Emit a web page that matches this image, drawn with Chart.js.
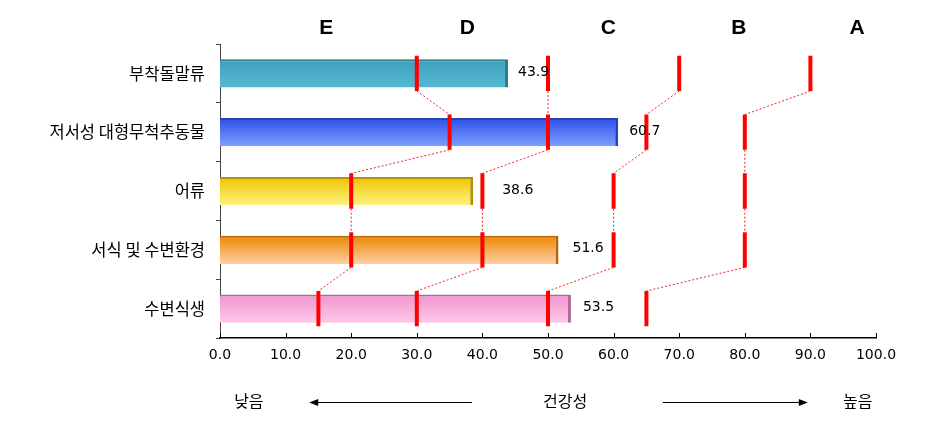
<!DOCTYPE html>
<html>
<head>
<meta charset="utf-8">
<script src="https://cdn.jsdelivr.net/npm/chart.js@4"></script>
<style>
html,body{margin:0;padding:0;background:#fff;}
#wrap{width:946px;height:443px;position:relative;}
</style>
</head>
<body>
<div id="wrap"><canvas id="c" width="946" height="443"></canvas></div>
<script>
// ---- data ----
const categories = ['부착돌말류', '저서성 대형무척추동물', '어류', '서식 및 수변환경', '수변식생'];
const values = [43.9, 60.7, 38.6, 51.6, 53.5];
// grade boundaries per category (E|D, D|C, C|B, B|A)
const boundaries = [
  [30, 50, 70, 90],
  [35, 50, 65, 80],
  [20, 40, 60, 80],
  [20, 40, 60, 80],
  [15, 30, 50, 65]
];
const grades = ['E', 'D', 'C', 'B', 'A'];
const gradeLabelPos = [16.2, 37.7, 59.2, 79.1, 97.1];
const xTickValues = [0, 10, 20, 30, 40, 50, 60, 70, 80, 90, 100];
const bottomLow = '낮음';
const bottomMid = '건강성';
const bottomHigh = '높음';

// ---- styles ----
const barColors = [
  {top: '#3f9fba', bottom: '#56b9d2', edge: '#2d7c90'},
  {top: '#2c50e6', bottom: '#7f9eff', edge: '#2a42b0'},
  {top: '#f0c400', bottom: '#fff37e', edge: '#b49208'},
  {top: '#ec8700', bottom: '#ffd0a2', edge: '#b06810'},
  {top: '#f095cf', bottom: '#ffc8e8', edge: '#b06a9a'}
];
const labelOffsets = [10, 11, 29, 14, 12];
const mTop = 0.30, mBot = 0.30;

// build overlay line data from boundaries
const markerData = [];
boundaries.forEach((row, i) => {
  row.forEach(t => {
    markerData.push({x: t, y: i - mTop}, {x: t, y: i + mBot}, {x: null, y: null});
  });
});
const connectorData = [];
for (let k = 0; k < 4; k++) {
  for (let i = 0; i < boundaries.length - 1; i++) {
    connectorData.push({x: boundaries[i][k], y: i + mBot}, {x: boundaries[i + 1][k], y: i + 1 - mTop}, {x: null, y: null});
  }
}

const overlayPlugin = {
  id: 'overlay',
  afterDraw(chart) {
    const ctx = chart.ctx;
    const xs = chart.scales.x, ys = chart.scales.y;
    const area = chart.chartArea;
    ctx.save();
    // inward x tick marks
    ctx.strokeStyle = '#000';
    ctx.lineWidth = 1;
    xTickValues.forEach(v => {
      const px = Math.round(xs.getPixelForValue(v)) + 0.5;
      ctx.beginPath();
      ctx.moveTo(px, area.bottom);
      ctx.lineTo(px, area.bottom - 5);
      ctx.stroke();
    });
    // value labels
    ctx.fillStyle = '#000';
    ctx.font = '14px "DejaVu Sans", sans-serif';
    ctx.textAlign = 'left';
    ctx.textBaseline = 'middle';
    values.forEach((v, i) => {
      const px = xs.getPixelForValue(v) + labelOffsets[i];
      const py = ys.getPixelForValue(i) - 1;
      ctx.fillText(v.toFixed(1), px, py);
    });
    // grade letters
    ctx.font = 'bold 21px "Liberation Sans", Arial, sans-serif';
    ctx.textAlign = 'center';
    grades.forEach((g, i) => {
      ctx.fillText(g, xs.getPixelForValue(gradeLabelPos[i]), 28);
    });
    // bottom annotation
    const by = 401;
    ctx.font = '16px "Noto Sans CJK KR", sans-serif';
    ctx.fillText(bottomLow, xs.getPixelForValue(4.4), by);
    ctx.fillText(bottomMid, xs.getPixelForValue(52.6), by);
    ctx.fillText(bottomHigh, xs.getPixelForValue(97.2), by);
    const ay = by + 1.5;
    function arrow(x1, x2) {
      ctx.beginPath();
      ctx.moveTo(x1, ay);
      ctx.lineTo(x2, ay);
      ctx.stroke();
      const dir = x2 > x1 ? 1 : -1;
      ctx.beginPath();
      ctx.moveTo(x2 + dir * 2, ay);
      ctx.lineTo(x2 - dir * 7, ay - 3.5);
      ctx.lineTo(x2 - dir * 7, ay + 3.5);
      ctx.closePath();
      ctx.fill();
    }
    arrow(xs.getPixelForValue(38.4), xs.getPixelForValue(13.9));
    arrow(xs.getPixelForValue(67.5), xs.getPixelForValue(89.3));
    ctx.restore();
  }
};

new Chart(document.getElementById('c'), {
  type: 'bar',
  data: {
    labels: categories,
    datasets: [
      {
        type: 'bar',
        data: values,
        xAxisID: 'x',
        yAxisID: 'y',
        grouped: false,
        categoryPercentage: 1,
        barPercentage: 0.48,
        order: 3,
        backgroundColor: (c) => {
          const col = barColors[c.dataIndex % barColors.length];
          const chart = c.chart;
          if (!chart.chartArea || !chart.scales.y) return col.top;
          const y = chart.scales.y.getPixelForValue(c.dataIndex);
          const g = chart.ctx.createLinearGradient(0, y - 14, 0, y + 14);
          g.addColorStop(0, col.top);
          g.addColorStop(1, col.bottom);
          return g;
        },
        borderColor: (c) => barColors[c.dataIndex % barColors.length].edge,
        borderWidth: {top: 2, right: 3, bottom: 0, left: 0},
        borderSkipped: false
      },
      {
        type: 'scatter',
        indexAxis: 'x',
        data: connectorData,
        xAxisID: 'x',
        yAxisID: 'y2',
        showLine: true,
        borderColor: 'rgba(240,0,0,0.85)',
        borderWidth: 1,
        borderDash: [2, 2],
        pointRadius: 0,
        order: 2
      },
      {
        type: 'scatter',
        indexAxis: 'x',
        data: markerData,
        xAxisID: 'x',
        yAxisID: 'y2',
        showLine: true,
        borderColor: '#ff0000',
        borderWidth: 4,
        borderCapStyle: 'butt',
        pointRadius: 0,
        order: 1
      }
    ]
  },
  options: {
    indexAxis: 'y',
    responsive: false,
    animation: false,
    layout: {padding: {left: 0, right: 70, top: 44, bottom: 75}},
    plugins: {legend: {display: false}, tooltip: {enabled: false}},
    scales: {
      x: {
        type: 'linear',
        position: 'bottom',
        min: 0,
        max: 100,
        offset: false,
        afterFit: (s) => { s.height = 30; },
        afterBuildTicks: (s) => { s.ticks = xTickValues.map(v => ({value: v})); },
        ticks: {
          callback: (v) => Number(v).toFixed(1),
          color: '#000',
          padding: 9,
          font: {family: '"DejaVu Sans", sans-serif', size: 14},
          maxRotation: 0
        },
        grid: {display: false, drawTicks: false},
        border: {display: true, color: '#000', width: 1.5}
      },
      y: {
        type: 'category',
        position: 'left',
        offset: true,
        afterFit: (s) => { s.width = 220; },
        ticks: {
          color: '#000',
          padding: 11,
          font: {family: '"Noto Sans CJK KR", sans-serif', size: 16.5}
        },
        grid: {display: true, drawOnChartArea: false, drawTicks: true, tickLength: 4, color: '#444', offset: true},
        border: {display: true, color: '#444', width: 1}
      },
      y2: {
        type: 'linear',
        axis: 'y',
        position: 'left',
        display: false,
        offset: false,
        grace: 0,
        grid: {offset: false},
        min: -0.5,
        max: 4.5,
        reverse: true
      }
    }
  },
  plugins: [overlayPlugin]
});
</script>
</body>
</html>
